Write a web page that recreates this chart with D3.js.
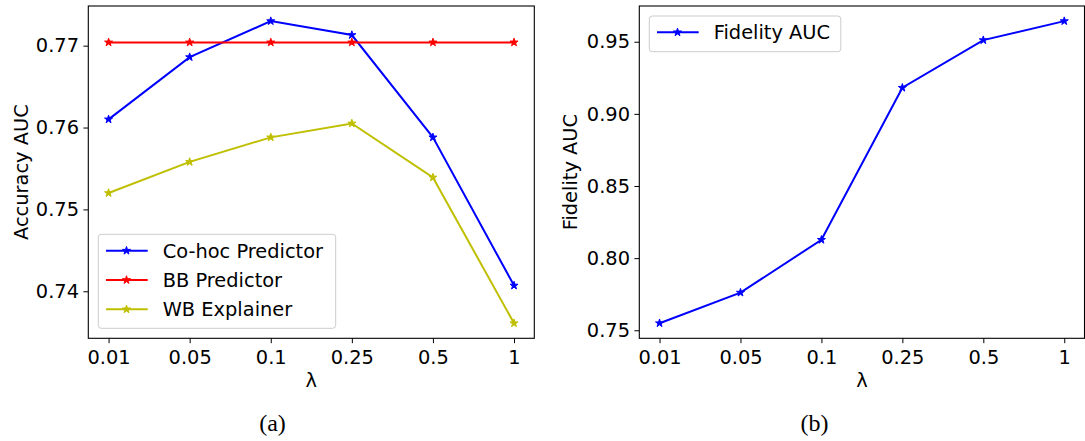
<!DOCTYPE html>
<html>
<head>
<meta charset="utf-8">
<script src="https://cdn.jsdelivr.net/npm/d3@7/dist/d3.min.js"></script>
<style>
  body { margin: 0; background: #fff; }
  svg { display: block; }
  text { font-family: "DejaVu Sans", sans-serif; fill: #000; }
</style>
</head>
<body>
<svg id="chart" width="1085" height="441"></svg>
<script>
// lambda values on the x axis (categorical)
const lambdas = ["0.01", "0.05", "0.1", "0.25", "0.5", "1"];

// panel (a) - accuracy
const cohocPredictor = [0.7610, 0.7686, 0.7730, 0.7713, 0.7588, 0.7407];
const bbPredictor    = [0.7704, 0.7704, 0.7704, 0.7704, 0.7704, 0.7704];
const wbExplainer    = [0.7520, 0.7558, 0.7588, 0.7605, 0.7539, 0.7361];
const accTicks = [0.74, 0.75, 0.76, 0.77];

// panel (b) - fidelity
const fidelityAuc = [0.7549, 0.7761, 0.8127, 0.9181, 0.9511, 0.9643];
const fidTicks = [0.75, 0.80, 0.85, 0.90, 0.95];

const fontSize = 19.4;
const tickLen = 4.9;
const svg = d3.select("#chart");

function drawPanel(cfg) {
    const { left, right, top, bottom } = cfg;
    const g = svg.append("g");

    const x = d3.scalePoint().domain(lambdas).range([left, right]).padding(0.25);

    // matplotlib style 5% margins around data
    const allVals = cfg.series.flatMap(s => s.values);
    const [lo, hi] = d3.extent(allVals);
    const m = (hi - lo) * 0.05;
    const y = d3.scaleLinear().domain([lo - m, hi + m]).range([bottom, top]);

    // axes
    const xAxis = g.append("g")
        .attr("transform", `translate(0,${bottom})`)
        .call(d3.axisBottom(x).tickSize(tickLen).tickPadding(7));
    const yAxis = g.append("g")
        .attr("transform", `translate(${left},0)`)
        .call(d3.axisLeft(y).tickValues(cfg.ticks).tickFormat(d3.format(".2f"))
            .tickSize(tickLen).tickPadding(4.4));

    [xAxis, yAxis].forEach(a => {
        a.select(".domain").remove();
        a.selectAll("line").attr("stroke", "#000").attr("stroke-width", 1);
        a.selectAll("text")
            .style("font-family", "DejaVu Sans")
            .style("font-size", fontSize + "px")
            .attr("fill", "#000");
    });

    // lines + star markers
    const line = d3.line().x((d, i) => x(lambdas[i])).y(d => y(d));
    const star = d3.symbol().type(d3.symbolStar).size(20);

    cfg.series.forEach(s => {
        g.append("path")
            .datum(s.values)
            .attr("d", line)
            .attr("fill", "none")
            .attr("stroke", s.color)
            .attr("stroke-width", 2);
        g.selectAll(null)
            .data(s.values)
            .enter()
            .append("path")
            .attr("d", star)
            .attr("transform", (d, i) => `translate(${x(lambdas[i])},${y(d)})`)
            .attr("fill", s.color)
            .attr("stroke", s.color)
            .attr("stroke-width", 1);
    });

    // frame
    g.append("rect")
        .attr("x", left).attr("y", top)
        .attr("width", right - left).attr("height", bottom - top)
        .attr("fill", "none")
        .attr("stroke", "#000")
        .attr("stroke-width", 1.1);

    // axis labels
    g.append("text")
        .attr("x", (left + right) / 2)
        .attr("y", 387)
        .attr("text-anchor", "middle")
        .style("font-size", fontSize + "px")
        .text("λ");
    g.append("text")
        .attr("transform", `translate(${cfg.yLabelX},${(top + bottom) / 2}) rotate(-90)`)
        .attr("text-anchor", "middle")
        .style("font-size", fontSize + "px")
        .text(cfg.yLabel);

    // legend
    const lg = cfg.legend;
    const lgBox = g.append("g");
    lgBox.append("rect")
        .attr("x", lg.x).attr("y", lg.y)
        .attr("width", lg.w).attr("height", lg.h)
        .attr("rx", 3)
        .attr("fill", "#fff").attr("fill-opacity", 0.8)
        .attr("stroke", "#cccccc").attr("stroke-width", 1);
    cfg.series.forEach((s, i) => {
        const ry = lg.firstRow + i * 29.3;
        lgBox.append("line")
            .attr("x1", lg.x + 7.7).attr("x2", lg.x + 49.4)
            .attr("y1", ry).attr("y2", ry)
            .attr("stroke", s.color).attr("stroke-width", 2);
        lgBox.append("path")
            .attr("d", star)
            .attr("transform", `translate(${lg.x + 28.2},${ry})`)
            .attr("fill", s.color).attr("stroke", s.color).attr("stroke-width", 1);
        lgBox.append("text")
            .attr("x", lg.x + 64.4)
            .attr("y", ry + 7)
            .style("font-size", fontSize + "px")
            .text(s.name);
    });

    // caption
    svg.append("text")
        .attr("x", cfg.captionX)
        .attr("y", 431)
        .attr("text-anchor", "middle")
        .style("font-family", "Liberation Serif, serif")
        .style("font-size", "24px")
        .text(cfg.caption);
}

drawPanel({
    left: 88.3, right: 534.3, top: 6, bottom: 338.3,
    ticks: accTicks,
    yLabel: "Accuracy AUC", yLabelX: 28,
    series: [
        { name: "Co-hoc Predictor", values: cohocPredictor, color: "#0000ff" },
        { name: "BB Predictor", values: bbPredictor, color: "#ff0000" },
        { name: "WB Explainer", values: wbExplainer, color: "#bfbf00" }
    ],
    legend: { x: 98.3, y: 234.3, w: 237.4, h: 94, firstRow: 250.7 },
    caption: "(a)", captionX: 272.5
});

drawPanel({
    left: 639.3, right: 1084.5, top: 6, bottom: 338.3,
    ticks: fidTicks,
    yLabel: "Fidelity AUC", yLabelX: 577,
    series: [
        { name: "Fidelity AUC", values: fidelityAuc, color: "#0000ff" }
    ],
    legend: { x: 649.3, y: 16, w: 191.5, h: 35.7, firstRow: 32.3 },
    caption: "(b)", captionX: 814.5
});
</script>
</body>
</html>
